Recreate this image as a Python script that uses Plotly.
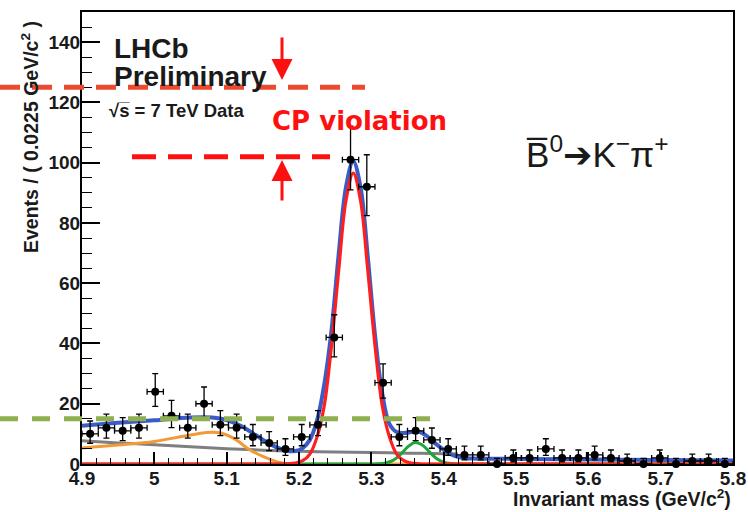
import math
import plotly.graph_objects as go

# ---- histogram binning and observed counts ----
bin_lo, bin_width, n_bins = 4.9, 0.0225, 40
bin_centers = [round(bin_lo + bin_width * (i + 0.5), 5) for i in range(n_bins)]
counts = [10, 12, 11, 12, 24, 16, 12, 20, 13, 12,
          9, 7, 5, 9, 13, 42, 101, 92, 27, 9,
          11, 8, 5, 3, 3, 0, 2, 2, 5, 2,
          2, 3, 2, 1, 0, 2, 0, 1, 1, 0]

# ---- fit components (events per bin) ----
comb_x = [4.90, 4.95, 5.00, 5.05, 5.10, 5.15, 5.20, 5.25, 5.30, 5.35, 5.40, 5.42]
comb_y = [7.7, 7.0, 6.4, 5.7, 5.1, 4.6, 4.2, 4.0, 3.8, 3.6, 3.4, 3.3]

prc_x = [4.90, 4.95, 5.00, 5.04, 5.07, 5.09, 5.11, 5.13, 5.15, 5.17, 5.19, 5.22, 5.80]
prc_y = [5.3, 6.3, 7.5, 9.2, 10.4, 10.4, 8.5, 5.0, 2.5, 0.7, 0.0, 0.0, 0.0]

sig_x = [4.90, 5.175, 5.185, 5.195, 5.205, 5.215, 5.225, 5.235, 5.245, 5.255, 5.265,
         5.275, 5.285, 5.295, 5.305, 5.315, 5.325, 5.335, 5.345, 5.355, 5.365, 5.375, 5.80]
sig_y = [0.0, 0.0, 0.1, 0.3, 1.1, 3.3, 9.0, 19.5, 39.5, 64.5, 87.5,
         96.5, 87.5, 64.5, 39.5, 19.5, 9.0, 3.3, 1.1, 0.3, 0.1, 0.0, 0.0]

bs_x = [4.90, 5.30, 5.31, 5.32, 5.33, 5.34, 5.35, 5.36, 5.37, 5.38, 5.39, 5.40, 5.41, 5.42, 5.43, 5.80]
bs_y = [0.0, 0.0, 0.06, 0.34, 1.2, 3.1, 5.6, 7.15, 6.4, 4.1, 1.85, 0.6, 0.14, 0.02, 0.0, 0.0]

tot_x = [4.90, 4.95, 5.00, 5.05, 5.08, 5.10, 5.12, 5.14, 5.16, 5.175, 5.185, 5.195,
         5.205, 5.215, 5.225, 5.235, 5.245, 5.255, 5.265, 5.275, 5.285, 5.295, 5.305,
         5.315, 5.325, 5.335, 5.345, 5.355, 5.365, 5.375, 5.385, 5.395, 5.405, 5.415,
         5.425, 5.44, 5.50, 5.60, 5.70, 5.80]
tot_y = [12.7, 13.7, 14.5, 15.4, 15.4, 14.6, 12.6, 9.6, 6.6, 5.0, 4.3, 4.3,
         5.3, 8.0, 14.5, 26.5, 44.5, 70.0, 92.0, 100.5, 92.0, 69.0, 43.0,
         23.5, 13.3, 10.6, 10.3, 10.6, 10.8, 9.6, 7.5, 5.6, 3.9, 2.7,
         2.1, 1.8, 1.7, 1.5, 1.3, 1.2]

# ---- axis ticks ----
x_tickvals = [4.9, 5.0, 5.1, 5.2, 5.3, 5.4, 5.5, 5.6, 5.7, 5.8]
x_ticktext = ["4.9", "5", "5.1", "5.2", "5.3", "5.4", "5.5", "5.6", "5.7", "5.8"]
y_tickvals = [0, 20, 40, 60, 80, 100, 120, 140]

# reference levels marked on the plot
level_high, level_low, level_bkg = 125, 102, 15


def poisson_cdf(k, mu):
    term = math.exp(-mu)
    total = term
    for i in range(1, k + 1):
        term *= mu / i
        total += term
    return total


def solve(f, lo, hi):
    for _ in range(200):
        mid = 0.5 * (lo + hi)
        if f(mid) > 0:
            lo = mid
        else:
            hi = mid
    return 0.5 * (lo + hi)


def poisson_interval(n, alpha=0.15866):
    up = solve(lambda mu: poisson_cdf(n, mu) - alpha, 0.0, n + 50.0)
    if n == 0:
        lo = 0.0
    else:
        lo = solve(lambda mu: alpha - (1.0 - poisson_cdf(n - 1, mu)), 0.0, n + 50.0)
    return n - lo, up - n


err_lo, err_hi = zip(*[poisson_interval(n) for n in counts])

fig = go.Figure()

fig.add_trace(go.Scatter(x=comb_x, y=comb_y, mode="lines", line=dict(color="#7f7f7f", width=3, shape="spline"),
                         hoverinfo="skip"))
fig.add_trace(go.Scatter(x=prc_x, y=prc_y, mode="lines", line=dict(color="#f39a38", width=3, shape="spline"),
                         hoverinfo="skip"))
fig.add_trace(go.Scatter(x=bs_x, y=bs_y, mode="lines", line=dict(color="#1fa53a", width=3, shape="spline"),
                         hoverinfo="skip"))
fig.add_trace(go.Scatter(x=tot_x, y=tot_y, mode="lines", line=dict(color="#3b5cc6", width=4, shape="spline"),
                         hoverinfo="skip"))
fig.add_trace(go.Scatter(x=sig_x, y=sig_y, mode="lines", line=dict(color="#ff1e1e", width=3.2, shape="spline"),
                         hoverinfo="skip"))
fig.add_trace(go.Scatter(
    x=bin_centers, y=counts, mode="markers",
    marker=dict(color="black", size=8),
    error_y=dict(type="data", symmetric=False, array=list(err_hi), arrayminus=list(err_lo),
                 color="black", thickness=1.3, width=3),
    error_x=dict(type="constant", value=bin_width / 2, color="black", thickness=1.3, width=3),
    cliponaxis=False, hoverinfo="skip"))

L, R, T, B = 82, 733, 12, 464
W, H = R - L, B - T


def px(x):
    return (x - L) / W


def py(y):
    return (B - y) / H


shapes = [
    dict(type="line", xref="paper", yref="y", x0=px(0), x1=px(365), y0=level_high, y1=level_high,
         line=dict(color="#ec4a2e", width=5, dash="20px,12px")),
    dict(type="line", xref="paper", yref="y", x0=px(132), x1=px(330), y0=level_low, y1=level_low,
         line=dict(color="#ff1010", width=5, dash="24px,12px")),
    dict(type="line", xref="paper", yref="y", x0=px(0), x1=px(430), y0=level_bkg, y1=level_bkg,
         line=dict(color="#8fb050", width=5, dash="18px,14px")),
]

bold = dict(family="Liberation Sans, Arial, sans-serif", color="#1a1a1a", weight="bold")

annotations = [
    dict(text="LHCb", x=px(112), y=py(49), xanchor="left", yanchor="middle",
         font=dict(size=28, **bold)),
    dict(text="Preliminary", x=px(112), y=py(77), xanchor="left", yanchor="middle",
         font=dict(size=28, **bold)),
    dict(text="\u221as\u0305 = 7 TeV Data", x=px(107), y=py(110), xanchor="left", yanchor="middle",
         font=dict(size=18.5, **bold)),
    dict(text="CP violation", x=px(359), y=py(121), xanchor="center", yanchor="middle",
         font=dict(family="Comic Sans MS, DejaVu Sans, sans-serif", size=26, color="#ff1010",
                   weight="bold")),
    dict(text="B\u0305<sup>0</sup><span style='font-family:DejaVu Sans'>\u2794</span>"
              "K<sup>\u2212</sup>\u03c0<sup>+</sup>",
         x=px(597), y=py(152), xanchor="center", yanchor="middle",
         font=dict(family="Liberation Sans, Arial, sans-serif", size=35, color="#1a1a1a")),
    dict(text="Events / ( 0.0225 GeV/c<sup>2</sup> )", textangle=-90,
         x=px(30), y=py(137), xanchor="center", yanchor="middle",
         font=dict(size=19.5, **bold)),
    dict(text="Invariant mass (GeV/c<sup>2</sup>)", x=1.0, y=py(498), xanchor="right", yanchor="middle",
         font=dict(size=19.5, **bold)),
    dict(text="", x=px(282), y=py(80), ax=0, ay=-44, showarrow=True,
         arrowcolor="#ff1010", arrowwidth=3, arrowhead=2, arrowsize=1.4),
    dict(text="", x=px(282), y=py(160), ax=0, ay=42, showarrow=True,
         arrowcolor="#ff1010", arrowwidth=3, arrowhead=2, arrowsize=1.4),
]
for a in annotations:
    a.setdefault("xref", "paper")
    a.setdefault("yref", "paper")
    a.setdefault("showarrow", False)

tickfont = dict(size=19, **bold)

fig.update_layout(
    width=748, height=512,
    margin=dict(l=L, r=748 - R, t=T, b=512 - B, autoexpand=False),
    paper_bgcolor="white", plot_bgcolor="white",
    showlegend=False,
    shapes=shapes, annotations=annotations,
    xaxis=dict(range=[4.9, 5.8], tickvals=x_tickvals, ticktext=x_ticktext,
               ticks="inside", ticklen=12, tickwidth=1.5, tickcolor="black",
               minor=dict(tick0=4.9, dtick=0.02, ticks="inside", ticklen=6, tickwidth=1.3, tickcolor="black"),
               showline=True, linecolor="black", linewidth=2, mirror=True, automargin=False,
               ticklabelstandoff=-4,
               showgrid=False, zeroline=False, tickfont=tickfont),
    yaxis=dict(range=[0, 150], tickvals=y_tickvals,
               ticks="inside", ticklen=18, tickwidth=1.5, tickcolor="black",
               minor=dict(tick0=0, dtick=5, ticks="inside", ticklen=10, tickwidth=1.3, tickcolor="black"),
               showline=True, linecolor="black", linewidth=2, mirror=True, automargin=False,
               ticklabelstandoff=-4,
               showgrid=False, zeroline=False, tickfont=tickfont),
)

fig.write_html("out.html", config={"displayModeBar": False})
